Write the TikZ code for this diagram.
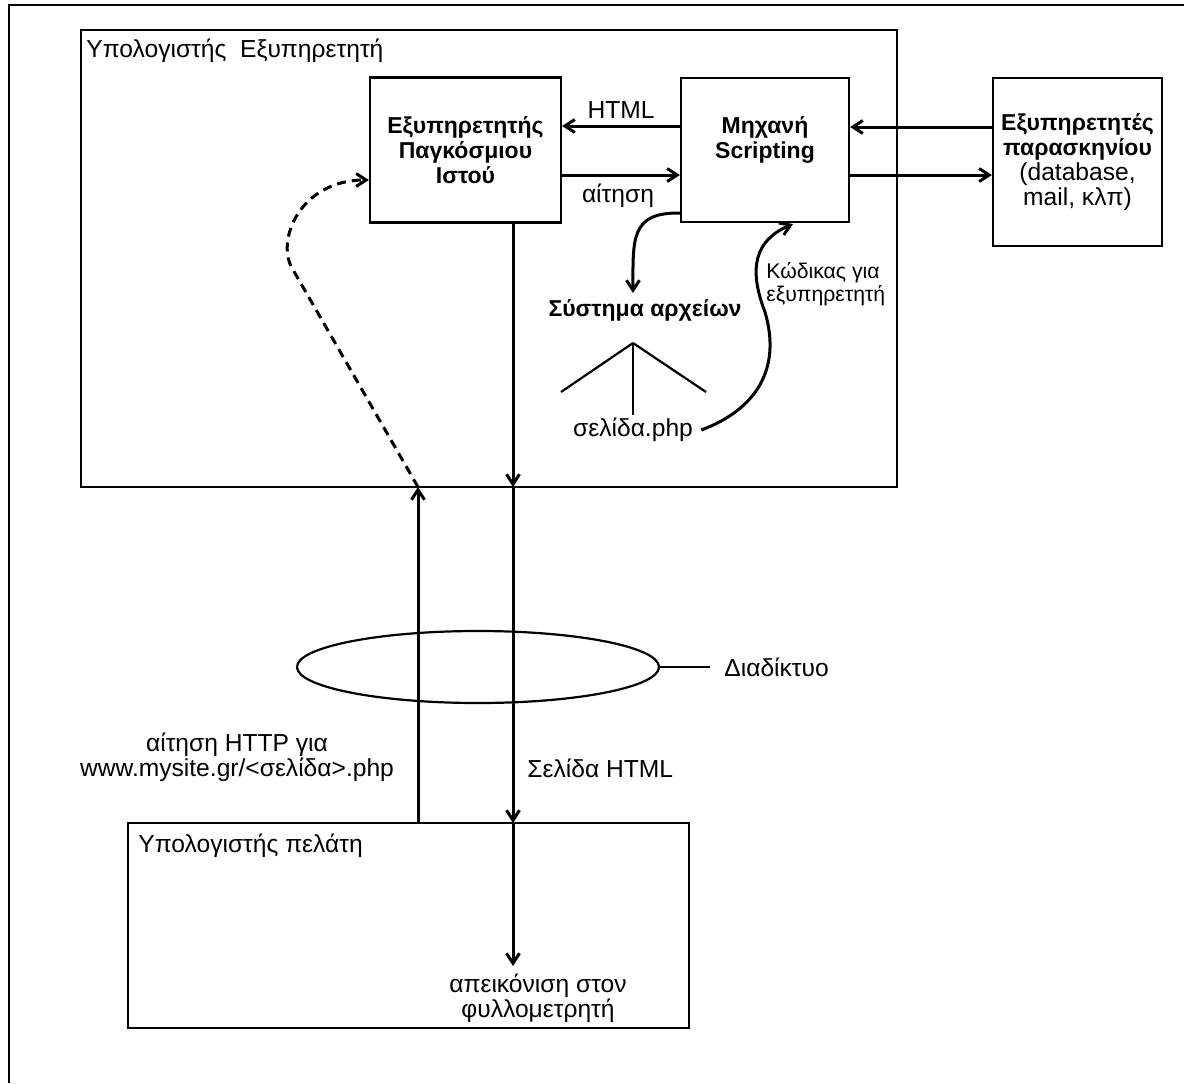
\documentclass[tikz,border=0pt]{standalone}
\usepackage{fontspec}
\setmainfont{Liberation Sans}
\usetikzlibrary{arrows.meta,shapes.geometric}
\newcommand{\mainfont}{\fontsize{12.3}{12.5}\selectfont}
\tikzstyle{pcbox} = [draw, line width=1.1pt, inner sep=0pt]
\tikzstyle{lbl} = [inner sep=0pt, align=center, font=\mainfont]
\tikzstyle{boxtitle} = [lbl, font=\fontsize{11.5}{12.5}\selectfont\bfseries]
\tikzstyle{link} = [draw, line width=1.5pt]
\tikzstyle{arrow} = [link, -{Straight Barb[length=5pt,width=6.5pt]}]
\tikzstyle{dash_arrow} = [arrow, dash pattern=on 4.5pt off 3pt]

\begin{document}
\begin{tikzpicture}[x=0.5pt, y=-0.5pt]
	\useasboundingbox (0,0) rectangle (1184,1083);
	% frame
	\draw[line width=1.4pt] (9,1083) -- (9,5) -- (1184,5);

	% server side
	\node[pcbox, minimum width=408pt, minimum height=228.5pt] (server) at (489,258.5) {};
	\node[lbl, anchor=base west] (server_lbl) at (86,57) {Υπολογιστής~ Εξυπηρετητή};

	\node[pcbox, boxtitle, minimum width=95.5pt, minimum height=72.5pt] (web_srv) at (465.5,150) {Εξυπηρετητής\\Παγκόσμιου\\Ιστού};
	\node[pcbox, minimum width=84pt, minimum height=72pt] (scripting) at (765,150) {};
	\node[boxtitle] (scripting_lbl) at (765,140) {Μηχανή\\Scripting};
	\node[pcbox, lbl, minimum width=84.5pt, minimum height=84pt] (backend) at (1077.5,162) {\textbf{\fontsize{11.5}{12.5}\selectfont Εξυπηρετητές}\\\textbf{\fontsize{11.5}{12.5}\selectfont παρασκηνίου}\\(database,\\mail, κλπ)};

	\draw[arrow] ([yshift=12pt]scripting.west) -- ([yshift=12pt]web_srv.east);
	\draw[arrow] ([yshift=-12.5pt]web_srv.east) -- ([yshift=-12.5pt]scripting.west);
	\node[lbl] (html_lbl) at (621,110) {HTML};
	\node[lbl] (req_lbl) at (618,196) {αίτηση};

	\coordinate (sc_hi) at ([yshift=11.5pt]scripting.east);
	\coordinate (sc_lo) at ([yshift=-12.5pt]scripting.east);
	\draw[arrow] (sc_hi -| backend.west) -- (sc_hi);
	\draw[arrow] (sc_lo) -- (sc_lo -| backend.west);

	% file system
	\node[boxtitle] (files) at (645,310) {Σύστημα αρχείων};
	\coordinate (fs_in) at (633,293);
	\coordinate (tree_top) at (633,343);
	\foreach \dx/\dy in {-72/49, 0/72, 73/49}{
		\draw[line width=1.1pt] (tree_top) --++ (\dx,\dy);
	}
	\node[lbl] (page) at (633,430) {σελίδα.php};
	\node[lbl, anchor=west, align=left, font=\fontsize{10.6}{11.5}\selectfont] (code_lbl) at (766,284) {Κώδικας για\\εξυπηρετητή};
	\coordinate (code_in) at (793,224);

	\draw[arrow] ([yshift=5pt]scripting.south west) .. controls (630,212) and (633,240) .. (fs_in);
	\draw[arrow] ([xshift=4pt]page.east) .. controls (755,410) and (782,370) .. (765,312)
		.. controls (748,268) and (755,240) .. (code_in);

	% network
	\coordinate (srv_out) at (513,487);
	\coordinate (cl_in) at (513,823);
	\coordinate (disp) at (513,966);
	\coordinate (srv_in) at (418,487);
	\coordinate (cl_up) at (418,823);

	\draw[arrow] (web_srv.south -| srv_out) -- (srv_out);
	\draw[arrow] (srv_out) -- (cl_in);
	\draw[arrow] (cl_in) -- (disp);
	\draw[arrow] (cl_up) -- (srv_in);
	\draw[dash_arrow] (srv_in) -- (292,268) .. controls (276,240) and (300,180) .. ([yshift=-15pt]web_srv.west);

	\node[draw, ellipse, line width=1.1pt, inner sep=0pt, minimum width=181pt, minimum height=36pt] (net) at (478,667) {};
	\node[lbl, anchor=west] (net_lbl) at (724,667) {Διαδίκτυο};
	\draw[line width=1.1pt] (net.east) -- ([xshift=-7pt]net_lbl.west);

	\node[lbl] (http_lbl) at (237,757) {αίτηση HTTP για\\www.mysite.gr/<σελίδα>.php};
	\node[lbl, anchor=west] (html_page) at (527,768) {Σελίδα HTML};

	% client side
	\node[pcbox, minimum width=280.5pt, minimum height=102.5pt] (client) at (408.5,925.5) {};
	\node[lbl, anchor=base west] (client_lbl) at (138,852) {Υπολογιστής πελάτη};
	\node[lbl, anchor=north] (show_lbl) at (538,974) {απεικόνιση στον\\φυλλομετρητή};
\end{tikzpicture}
\end{document}
